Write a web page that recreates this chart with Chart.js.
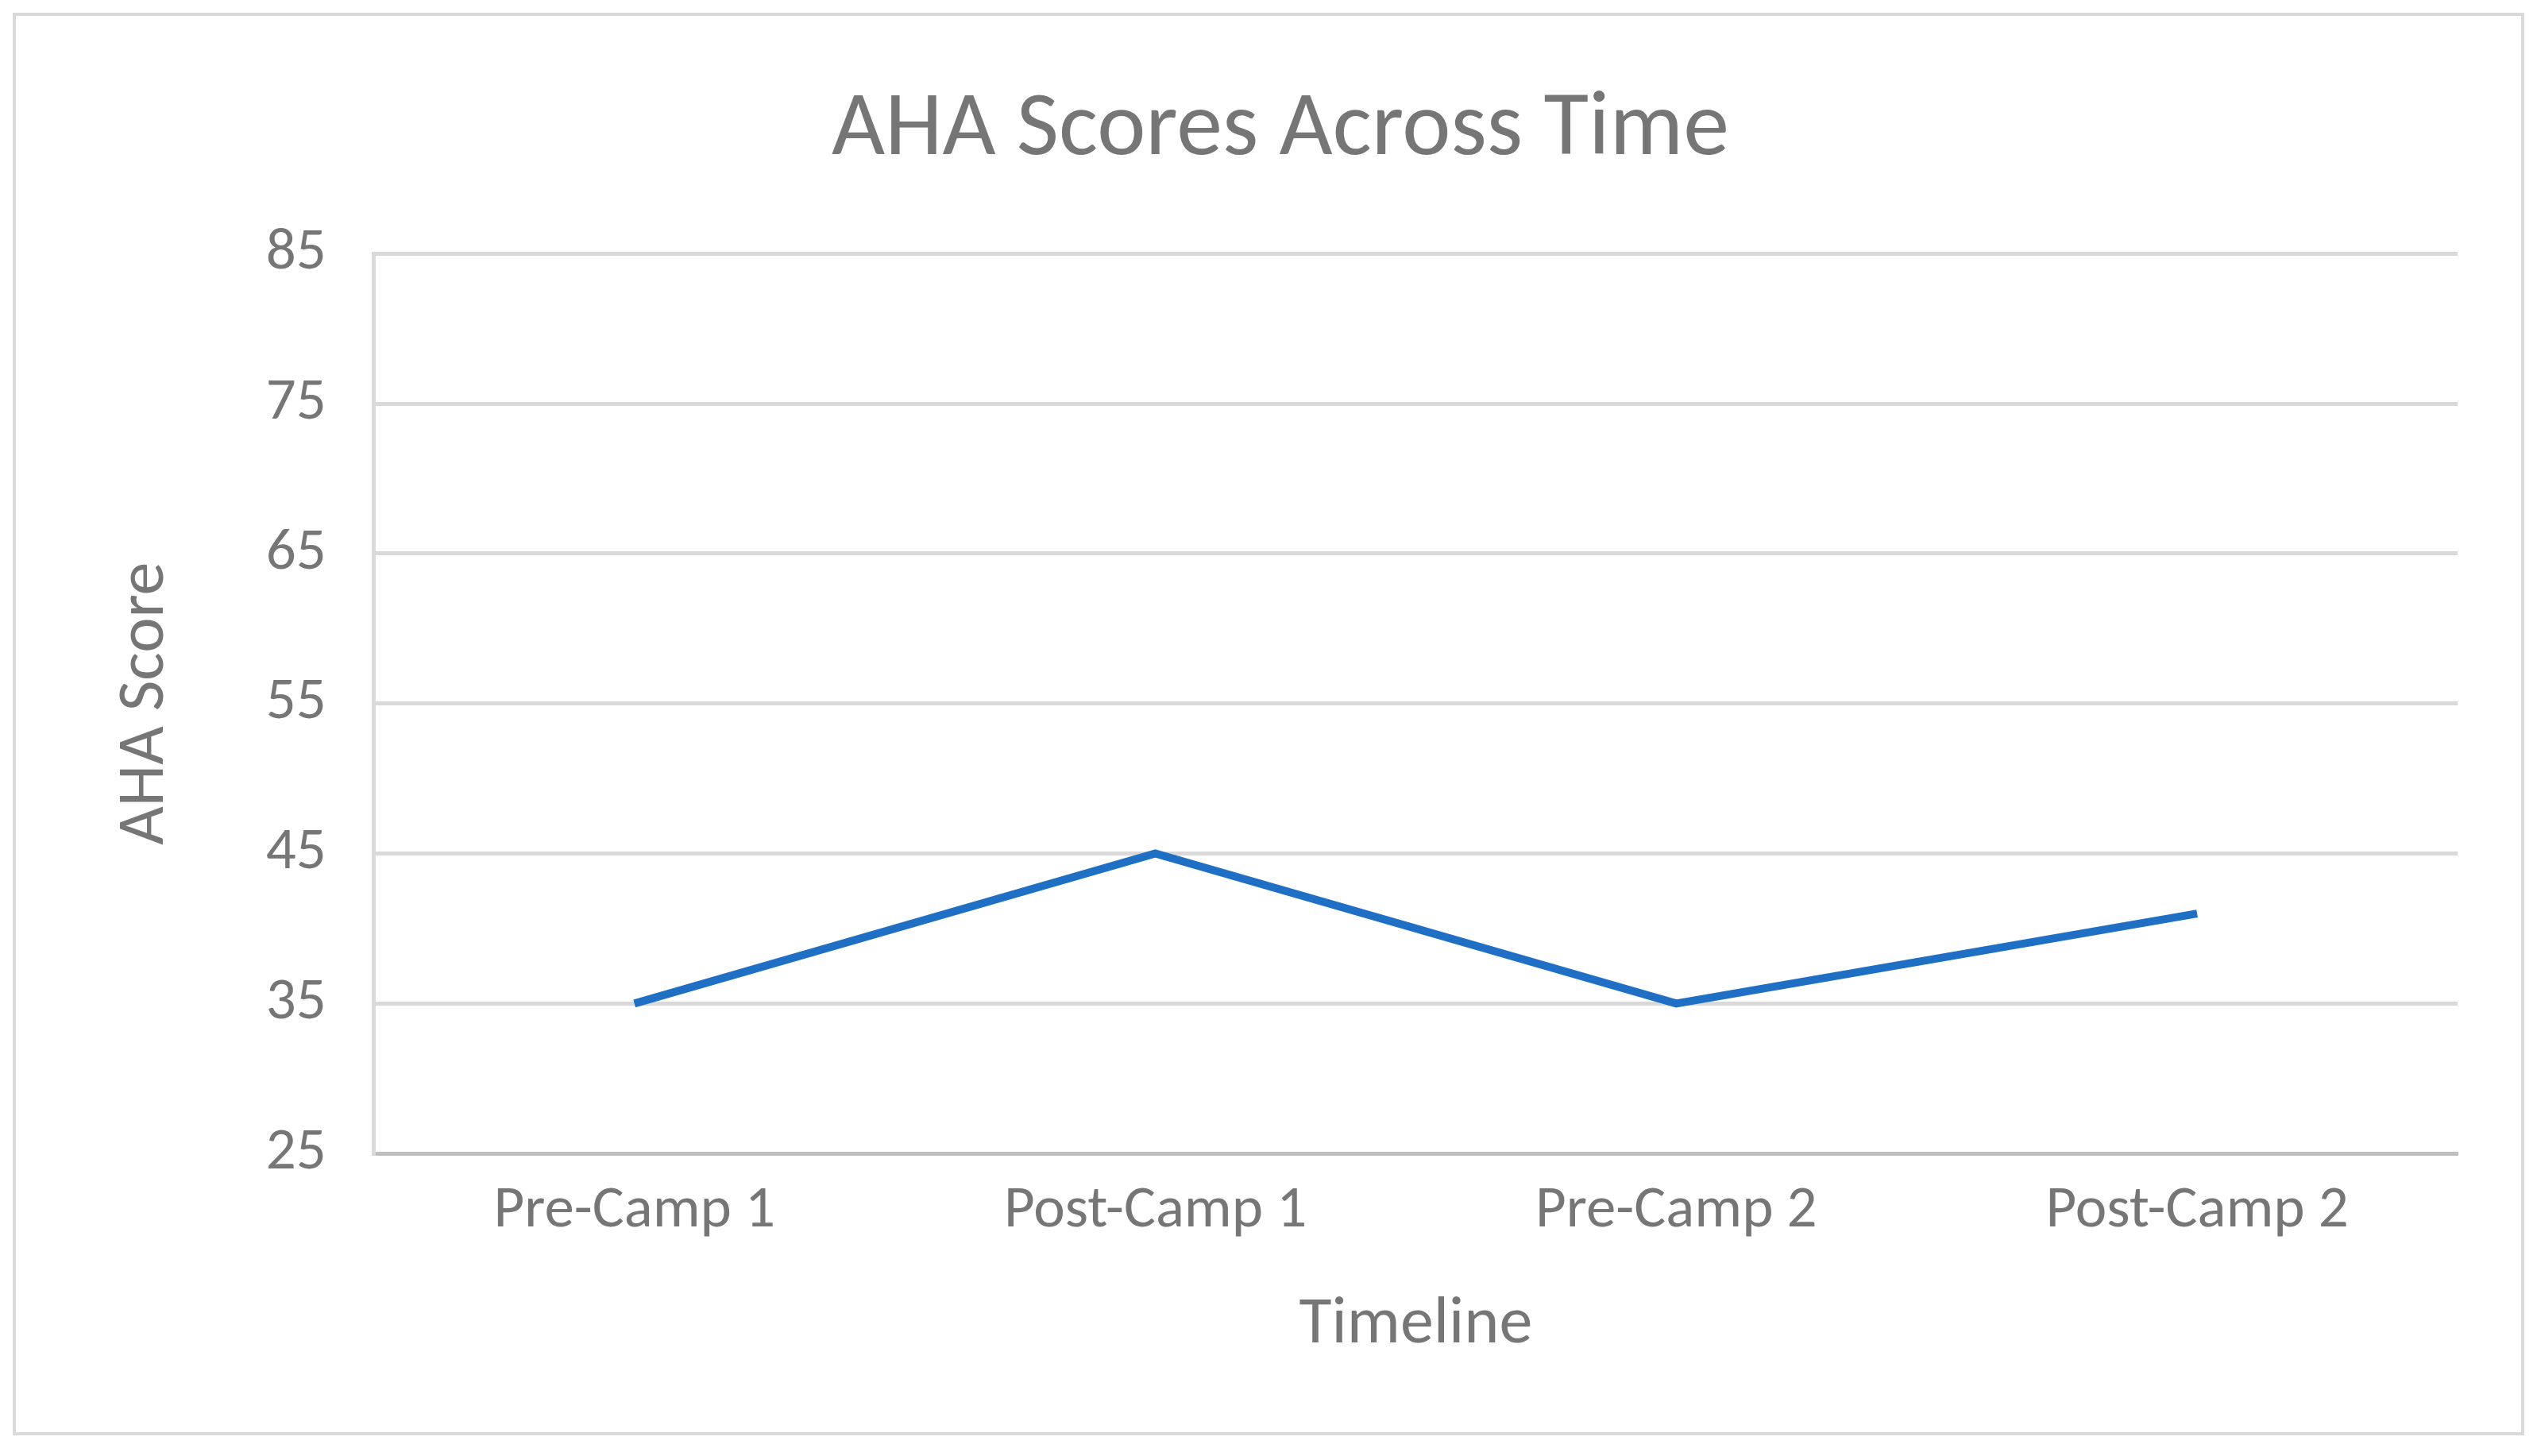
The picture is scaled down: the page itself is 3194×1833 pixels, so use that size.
<!DOCTYPE html>
<html>
<head>
<meta charset="utf-8">
<script src="https://cdn.jsdelivr.net/npm/chart.js@4"></script>
<style>
  body { margin: 0; background: #fff; }
  canvas { display: block; }
</style>
</head>
<body>
<canvas id="myChart" width="3194" height="1833"></canvas>
<script>
const ctx = document.getElementById('myChart');

// chart values
const timeline = ['Pre-Camp 1', 'Post-Camp 1', 'Pre-Camp 2', 'Post-Camp 2'];
const ahaScores = [35, 45, 35, 41];
const yTicks = [25, 35, 45, 55, 65, 75, 85];

const fontFamily = 'Calibri, Carlito, "Open Sans", "Noto Sans", sans-serif';
const textColor = '#767676';

// outer frame like the Excel chart area
const frame = {
    id: 'frame',
    beforeDraw(chart) {
        const c = chart.ctx;
        c.save();
        c.fillStyle = '#fff';
        c.fillRect(0, 0, chart.width, chart.height);
        c.strokeStyle = '#d9d9d9';
        c.lineWidth = 4;
        c.strokeRect(18, 18, chart.width - 36, chart.height - 46);
        c.restore();
    }
};

new Chart(ctx, {
    type: 'line',
    data: {
        labels: timeline,
        datasets: [{
            label: 'AHA Score',
            data: ahaScores,
            borderColor: '#1f6fc5',
            borderWidth: 10,
            pointRadius: 0,
            tension: 0
        }]
    },
    plugins: [frame],
    options: {
        responsive: false,
        animation: false,
        layout: { padding: { left: 130, right: 100, top: 95, bottom: 110 } },
        plugins: {
            legend: { display: false },
            tooltip: { enabled: false },
            title: {
                display: true,
                text: 'AHA Scores Across Time',
                color: textColor,
                font: { family: fontFamily, size: 116, weight: 'normal' },
                padding: { top: 0, bottom: 85 }
            }
        },
        scales: {
            x: {
                offset: true,
                grid: { display: false, drawTicks: false },
                border: { color: '#bfbfbf', width: 5 },
                ticks: {
                    color: textColor,
                    font: { family: fontFamily, size: 75 },
                    padding: 28,
                    maxRotation: 0
                },
                title: {
                    display: true,
                    text: 'Timeline',
                    color: textColor,
                    font: { family: fontFamily, size: 84 },
                    padding: { top: 20 }
                }
            },
            y: {
                min: 25,
                max: 85,
                afterBuildTicks(axis) {
                    axis.ticks = yTicks.map(v => ({ value: v }));
                },
                grid: { color: '#d9d9d9', lineWidth: 5, drawTicks: false },
                border: { display: true, color: '#d9d9d9', width: 5 },
                ticks: {
                    color: textColor,
                    font: { family: fontFamily, size: 75 },
                    padding: 60
                },
                title: {
                    display: true,
                    text: 'AHA Score',
                    color: textColor,
                    font: { family: fontFamily, size: 84 },
                    padding: { bottom: 40 }
                }
            }
        }
    }
});
</script>
</body>
</html>
